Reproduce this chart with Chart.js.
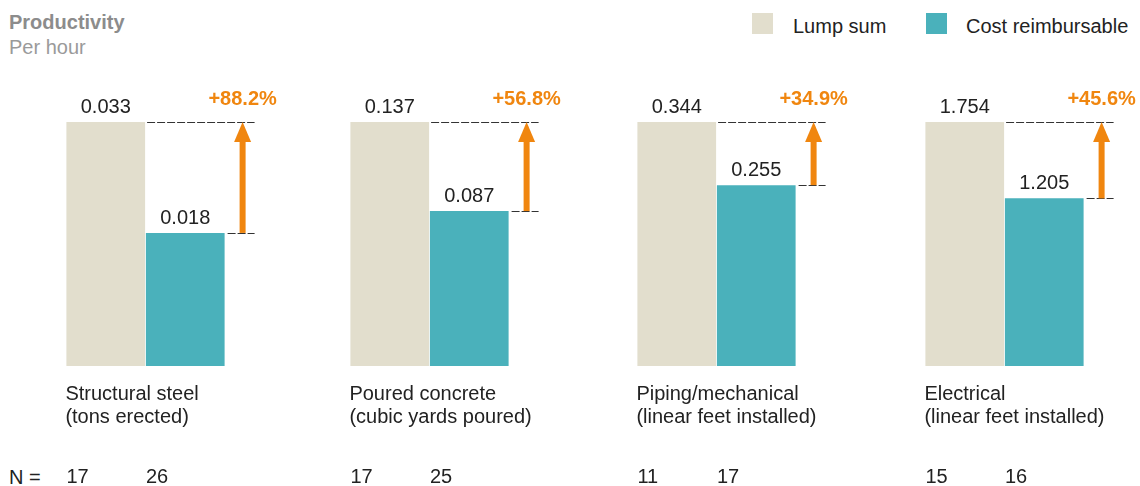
<!DOCTYPE html>
<html><head><meta charset="utf-8">
<script src="https://cdn.jsdelivr.net/npm/chart.js@4.4.1/dist/chart.umd.min.js"></script>
<style>
html,body{margin:0;padding:0;background:#fff}
body{width:1140px;height:486px;overflow:hidden;position:relative;font-family:"Liberation Sans",Arial,sans-serif}
.txt{position:absolute;white-space:nowrap;line-height:1}
canvas{position:absolute;top:60px}
.sw{position:absolute;width:21px;height:21px;top:13px}
</style></head><body>
<div class="txt" style="left:9px;top:12px;font-size:20px;font-weight:bold;color:#8c8c8c">Productivity</div>
<div class="txt" style="left:9px;top:37px;font-size:20px;color:#9a9a9a">Per hour</div>
<div class="sw" style="left:752px;background:#e2decd"></div>
<div class="txt" style="left:793px;top:16px;font-size:20px;color:#222">Lump sum</div>
<div class="sw" style="left:926px;background:#4ab1bb"></div>
<div class="txt" style="left:966px;top:16px;font-size:20px;color:#222">Cost reimbursable</div>
<div class="txt" style="left:9px;top:467px;font-size:20px;color:#222">N =</div>
<canvas id="c0" width="270" height="426"></canvas>
<canvas id="c1" width="270" height="426"></canvas>
<canvas id="c2" width="270" height="426"></canvas>
<canvas id="c3" width="270" height="426"></canvas>
<script>
const categories = ["Structural steel", "Poured concrete", "Piping/mechanical", "Electrical"];
const units = ["(tons erected)", "(cubic yards poured)", "(linear feet installed)", "(linear feet installed)"];
const seriesNames = ["Lump sum", "Cost reimbursable"];
const lumpSum = [0.033, 0.137, 0.344, 1.754];
const costReimbursable = [0.018, 0.087, 0.255, 1.205];
const valueLabels = [["0.033","0.018"],["0.137","0.087"],["0.344","0.255"],["1.754","1.205"]];
const changeLabels = ["+88.2%", "+56.8%", "+34.9%", "+45.6%"];
const nLump = [17, 17, 11, 15];
const nCost = [26, 25, 17, 16];

const groupLeft = [66, 350, 637, 925];
const COLORS = {lump:"#e2decd", cost:"#4ab1bb", orange:"#f0860f", text:"#222"};
const FONT = '"Liberation Sans", Arial, sans-serif';

const annot = {
  id: "annot",
  afterDatasetsDraw(chart, args, opts) {
    const i = opts.idx;
    const ctx = chart.ctx;
    const bars = chart.getDatasetMeta(0).data;
    const a = bars[0], b = bars[1];
    const aR = a.x + a.width / 2, bR = b.x + b.width / 2;
    const aL = a.x - a.width / 2, bL = b.x - b.width / 2;
    const ax = bR + 18;
    const lineEnd = ax + 12;
    ctx.save();
    // value labels
    ctx.font = "20px " + FONT;
    ctx.fillStyle = COLORS.text;
    ctx.textAlign = "center";
    ctx.textBaseline = "alphabetic";
    ctx.fillText(valueLabels[i][0], a.x, a.y - 9);
    ctx.fillText(valueLabels[i][1], b.x, b.y - 9);
    // dashed reference lines
    ctx.strokeStyle = "#333";
    ctx.lineWidth = 1;
    ctx.setLineDash([8, 2]);
    ctx.beginPath();
    ctx.moveTo(aR + 2, Math.round(a.y) + 0.5);
    ctx.lineTo(lineEnd, Math.round(a.y) + 0.5);
    ctx.moveTo(bR + 3, Math.round(b.y) + 0.5);
    ctx.lineTo(lineEnd, Math.round(b.y) + 0.5);
    ctx.stroke();
    ctx.setLineDash([]);
    // arrow
    ctx.fillStyle = COLORS.orange;
    const headH = 20, headW = 17, shaftW = 6;
    ctx.fillRect(ax - shaftW / 2, a.y + headH - 1, shaftW, b.y - a.y - headH + 1);
    ctx.beginPath();
    ctx.moveTo(ax, a.y);
    ctx.lineTo(ax + headW / 2, a.y + headH);
    ctx.lineTo(ax - headW / 2, a.y + headH);
    ctx.closePath();
    ctx.fill();
    // percentage
    ctx.font = "bold 20px " + FONT;
    ctx.textAlign = "center";
    ctx.fillText(changeLabels[i], ax, a.y - 17);
    // category labels
    ctx.fillStyle = COLORS.text;
    ctx.font = "20px " + FONT;
    ctx.textAlign = "left";
    const bot = chart.chartArea.bottom;
    ctx.fillText(categories[i], aL - 1, bot + 34);
    ctx.fillText(units[i], aL - 1, bot + 57);
    // N values
    ctx.fillText(String(nLump[i]), aL, bot + 117);
    ctx.fillText(String(nCost[i]), bL, bot + 117);
    ctx.restore();
  }
};

for (let i = 0; i < 4; i++) {
  const cv = document.getElementById("c" + i);
  cv.style.left = (groupLeft[i] - 10) + "px";
  new Chart(cv, {
    type: "bar",
    data: {
      labels: seriesNames,
      datasets: [{
        data: [lumpSum[i], costReimbursable[i]],
        backgroundColor: [COLORS.lump, COLORS.cost],
        borderWidth: 0,
        barPercentage: 0.99,
        categoryPercentage: 1.0
      }]
    },
    options: {
      responsive: false,
      animation: false,
      devicePixelRatio: 1,
      layout: { padding: { top: 62, bottom: 120, left: 10, right: 101 } },
      scales: {
        x: { display: false },
        y: { display: false, min: 0, max: lumpSum[i] }
      },
      plugins: {
        legend: { display: false },
        tooltip: { enabled: false },
        annot: { idx: i }
      }
    },
    plugins: [annot]
  });
}
</script>
</body></html>
